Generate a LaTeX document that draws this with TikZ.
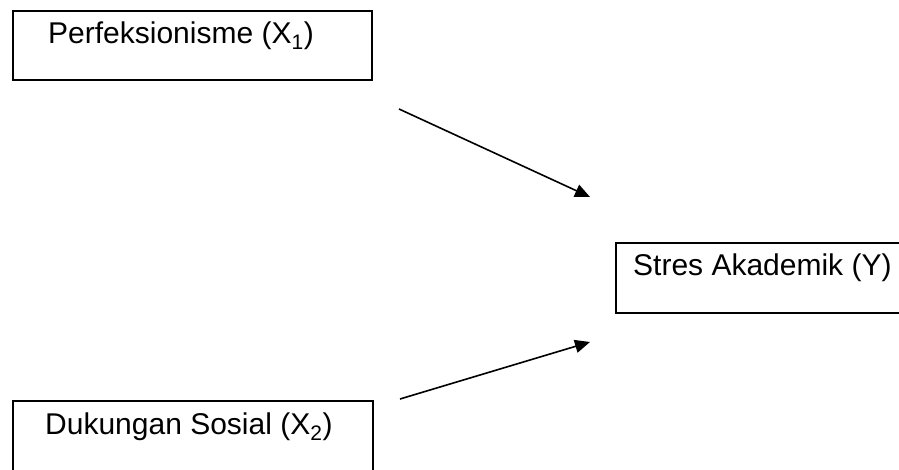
\documentclass[tikz,border=0pt]{standalone}
\usepackage{fontspec}
\setmainfont{Liberation Sans}
\usetikzlibrary{arrows.meta}
\begin{document}
\begin{tikzpicture}[x=1pt,y=-1pt,
  box/.style={draw=black,line width=1.6pt,inner sep=0pt,anchor=north west},
  txt/.style={anchor=base west,inner sep=0pt,font=\fontsize{30}{36}\selectfont},
  arr/.style={line width=1.6pt,-{Triangle[length=15pt,width=13pt]}}]
\useasboundingbox (0,0) rectangle (899,470);
\clip (0,0) rectangle (899,470);
\node[box,minimum width=359pt,minimum height=69pt] (x1) at (12,10) {};
\node[txt] (x1t) at (48,44) {Perfeksionisme (X\textsubscript{1})};
\node[box,minimum width=300pt,minimum height=70pt] (y) at (615,242) {};
\node[txt] (yt) at (633,276) {Stres Akademik (Y)};
\node[box,minimum width=360pt,minimum height=90pt] (x2) at (12,400) {};
\node[txt] (x2t) at (45,434) {Dukungan Sosial (X\textsubscript{2})};
\coordinate (a1s) at (399,109);
\coordinate (a1e) at (590,197);
\coordinate (a2s) at (400,399);
\coordinate (a2e) at (590,342);
\draw[arr] (a1s) -- (a1e);
\draw[arr] (a2s) -- (a2e);
\end{tikzpicture}
\end{document}
